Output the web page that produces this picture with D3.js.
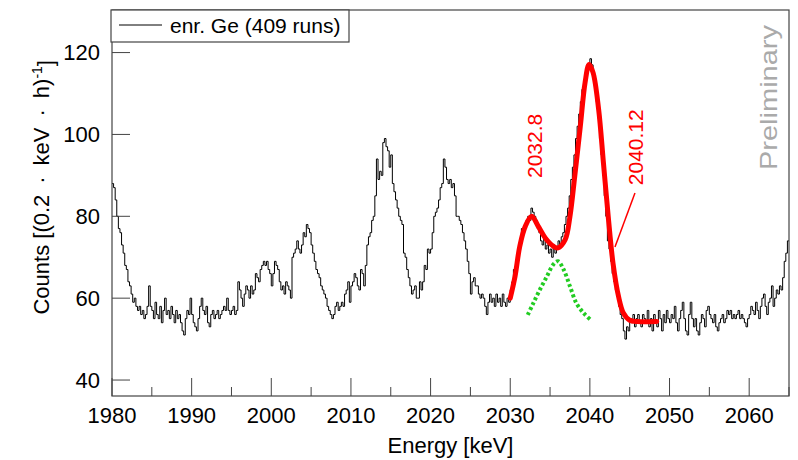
<!DOCTYPE html>
<html>
<head>
<meta charset="UTF-8">
<title>enr. Ge spectrum</title>
<script src="https://d3js.org/d3.v7.min.js"></script>
<style>
  body { margin: 0; background: #fff; }
  svg { display: block; font-family: "Liberation Sans", Arial, sans-serif; }
</style>
</head>
<body>
<div id="chart"></div>
<script>
  // histogram, 0.2 keV bins starting at 1980 keV (425 bins up to 2065)
  const binStart = 1980, binWidth = 0.2;
  const counts = [
    88, 87, 84, 80, 77, 76, 73, 71, 68, 67, 64, 63, 61, 59, 60, 58, 57, 58, 56, 57, 55, 56, 58, 63, 58,
    57, 55, 59, 56, 55, 58, 54, 57, 60, 56, 57, 55, 58, 56, 54, 57, 55, 56, 54, 52, 51, 55, 57, 56, 60,
    56, 54, 53, 52, 55, 58, 60, 57, 56, 58, 54, 53, 56, 57, 55, 56, 57, 55, 56, 57, 58, 57, 60, 57, 56,
    57, 58, 56, 57, 64, 62, 60, 58, 61, 63, 62, 60, 63, 61, 62, 66, 65, 64, 67, 68, 69, 68, 69, 67, 66,
    63, 66, 69, 68, 67, 64, 62, 63, 61, 64, 63, 62, 60, 70, 71, 72, 74, 72, 71, 73, 76, 75, 78, 77, 76,
    73, 71, 69, 67, 66, 65, 63, 62, 61, 60, 58, 57, 56, 55, 56, 58, 59, 57, 58, 59, 58, 61, 62, 64, 59,
    63, 64, 66, 65, 63, 62, 67, 66, 63, 68, 73, 75, 76, 79, 80, 85, 94, 89, 91, 90, 98, 99, 97, 96, 92,
    95, 88, 86, 84, 82, 80, 79, 78, 71, 70, 67, 65, 63, 61, 62, 63, 60, 60, 64, 62, 64, 68, 67, 72, 71,
    72, 76, 80, 81, 82, 84, 87, 88, 94, 92, 89, 88, 89, 87, 88, 85, 80, 80, 79, 78, 76, 74, 72, 69, 66,
    61, 64, 65, 63, 63, 61, 60, 61, 60, 58, 56, 59, 61, 59, 60, 58, 61, 59, 60, 58, 61, 59, 58, 60, 59,
    62, 64, 67, 66, 70, 72, 74, 77, 76, 78, 79, 80, 79, 82, 81, 80, 79, 77, 76, 74, 73, 75, 72, 73, 71,
    72, 70, 73, 71, 72, 74, 73, 75, 76, 78, 80, 82, 85, 89, 92, 95, 99, 102, 105, 108, 111, 113, 115, 117, 116,
    118.5, 117, 114, 111, 108, 104, 99, 95, 90, 85, 80, 74, 72, 69, 66, 64, 62, 61, 58, 56, 55, 52, 50, 53, 52,
    55, 54, 56, 53, 55, 56, 54, 53, 56, 55, 54, 57, 53, 55, 52, 56, 54, 53, 57, 55, 52, 56, 54, 57, 55,
    54, 56, 55, 58, 54, 52, 55, 57, 59, 55, 52, 51, 56, 59, 55, 53, 55, 52, 51, 54, 56, 55, 53, 57, 58,
    56, 55, 54, 56, 53, 52, 54, 55, 56, 54, 55, 57, 56, 57, 55, 56, 55, 56, 57, 55, 56, 55, 54, 53, 55,
    56, 58, 57, 56, 59, 57, 55, 58, 60, 61, 58, 56, 59, 60, 63, 58, 60, 62, 61, 63, 62, 65, 69, 71, 74
  ];

  // full fit (red)
  const fitEnergy = [2030.0, 2030.6, 2031.2, 2031.9, 2032.7, 2033.5, 2034.4, 2035.4, 2036.0, 2036.9,
    2037.5, 2038.1, 2038.8, 2039.4, 2039.9, 2040.4, 2041.1, 2041.7, 2042.3, 2042.9, 2043.6, 2044.2,
    2045.0, 2046.0, 2048.4];
  const fitCounts = [60.0, 65.3, 72.7, 77.6, 80.0, 77.6, 74.7, 72.7, 72.3, 74.3,
    80.0, 89.8, 102.0, 112.7, 117.1, 115.1, 106.1, 93.1, 80.0, 68.6, 60.4, 56.4,
    54.6, 54.3, 54.3];

  // single component (green, dotted)
  const compEnergy = [2032.2, 2032.9, 2033.7, 2034.6, 2035.4, 2036.0, 2036.7, 2037.5, 2038.3, 2039.2, 2040.2];
  const compCounts = [55.9, 58.8, 62.0, 65.3, 68.2, 69.0, 67.0, 62.9, 58.8, 56.4, 54.5];

  const xTicks = [1980, 1990, 2000, 2010, 2020, 2030, 2040, 2050, 2060];
  const xMinor = [1985, 1995, 2005, 2015, 2025, 2035, 2045, 2055, 2065];
  const yTicks = [40, 60, 80, 100, 120];
  const peakNames = ["2032.8", "2040.12"];

  const margin = {top: 10, right: 9, bottom: 64, left: 112},
        width = 798 - margin.left - margin.right,
        height = 460 - margin.top - margin.bottom;

  const svg = d3.select("#chart").append("svg")
      .attr("width", 798).attr("height", 460);
  const g = svg.append("g").attr("transform", `translate(${margin.left},${margin.top})`);

  const x = d3.scaleLinear().domain([1980, 2065]).range([0, width]);
  const y = d3.scaleLinear().domain([36.1, 130.4]).range([height, 0]);

  // histogram as steps
  const pts = counts.map((c, i) => [binStart + i * binWidth, c]);
  pts.push([binStart + counts.length * binWidth, counts[counts.length - 1]]);
  g.append("path")
    .attr("d", d3.line().x(d => x(d[0])).y(d => y(d[1])).curve(d3.curveStepAfter)(pts))
    .attr("fill", "none").attr("stroke", "#000").attr("stroke-width", 1);

  const smooth = d3.line().x(d => x(d[0])).y(d => y(d[1])).curve(d3.curveCatmullRom);

  g.append("path")
    .attr("d", smooth(compEnergy.map((e, i) => [e, compCounts[i]])))
    .attr("fill", "none").attr("stroke", "#22cc22").attr("stroke-width", 4)
    .attr("stroke-dasharray", "3,2.5");

  g.append("path")
    .attr("d", smooth(fitEnergy.map((e, i) => [e, fitCounts[i]])))
    .attr("fill", "none").attr("stroke", "#ff0000").attr("stroke-width", 5)
    .attr("stroke-linecap", "round").attr("stroke-linejoin", "round");

  // peak labels
  const labelPos = [[2033.99, 89.35], [2046.67, 87.6]];
  peakNames.forEach((t, i) => {
    g.append("text")
      .attr("transform", `translate(${x(labelPos[i][0])},${y(labelPos[i][1])}) rotate(-90)`)
      .attr("fill", "#ff0000").style("font-size", "21px").text(t);
  });
  g.append("line")
    .attr("x1", x(2045.66)).attr("y1", y(85.7))
    .attr("x2", x(2043.15)).attr("y2", y(72.5))
    .attr("stroke", "#ff0000").attr("stroke-width", 1.5);

  // frame
  g.append("rect").attr("width", width).attr("height", height)
    .attr("fill", "none").attr("stroke", "#444").attr("stroke-width", 1.2);

  // ticks
  g.selectAll(".xt").data(xTicks).enter().append("line")
    .attr("x1", d => x(d)).attr("x2", d => x(d)).attr("y1", height).attr("y2", height - 18)
    .attr("stroke", "#444");
  g.selectAll(".xm").data(xMinor).enter().append("line")
    .attr("x1", d => x(d)).attr("x2", d => x(d)).attr("y1", height).attr("y2", height - 9)
    .attr("stroke", "#444");
  g.selectAll(".yt").data(yTicks).enter().append("line")
    .attr("x1", 0).attr("x2", 18).attr("y1", d => y(d)).attr("y2", d => y(d))
    .attr("stroke", "#444");

  g.selectAll(".xl").data(xTicks).enter().append("text")
    .attr("x", d => x(d)).attr("y", height + 27)
    .attr("text-anchor", "middle").style("font-size", "22px").text(d => d);
  g.selectAll(".yl").data(yTicks).enter().append("text")
    .attr("x", -12).attr("y", d => y(d)).attr("dy", "0.36em")
    .attr("text-anchor", "end").style("font-size", "22px").text(d => d);

  // axis titles
  g.append("text").attr("x", width / 2).attr("y", height + 57)
    .attr("text-anchor", "middle").style("font-size", "22px").text("Energy [keV]");

  const yt = svg.append("text")
    .attr("transform", "translate(49,60) rotate(-90)")
    .attr("text-anchor", "end").style("font-size", "22px");
  yt.append("tspan").text("Counts [(0.2\u2002\u00b7\u2002keV\u2002\u00b7\u2002h)");
  yt.append("tspan").attr("dy", "-0.5em").style("font-size", "14px").text("-1");
  yt.append("tspan").attr("dy", "0.5em").text("]");

  // legend
  const leg = svg.append("g");
  leg.append("rect").attr("x", 111).attr("y", 10).attr("width", 238).attr("height", 32)
    .attr("fill", "#fff").attr("stroke", "#444").attr("stroke-width", 1.2);
  leg.append("line").attr("x1", 119).attr("x2", 162).attr("y1", 25).attr("y2", 25)
    .attr("stroke", "#000");
  leg.append("text").attr("x", 170).attr("y", 33).style("font-size", "21px").text("enr. Ge (409 runs)");

  svg.append("text")
    .attr("transform", "translate(777,170) rotate(-90)")
    .attr("textLength", 145).attr("lengthAdjust", "spacingAndGlyphs")
    .attr("fill", "#aaaaaa").style("font-size", "24px").text("Preliminary");
</script>
</body>
</html>
